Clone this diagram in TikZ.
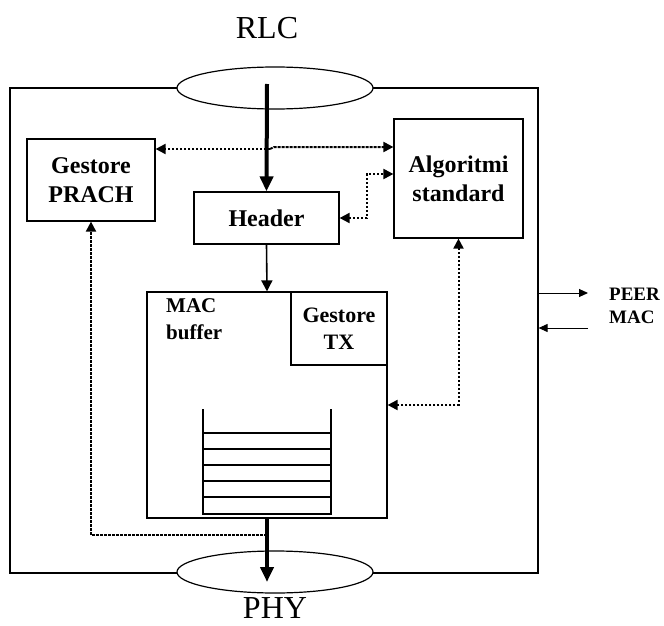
\documentclass[tikz,border=0pt]{standalone}
\usepackage{fontspec}
\setmainfont{Liberation Serif}
\usetikzlibrary{arrows.meta,shapes.geometric}

\tikzset{
  blocco/.style={shape=rectangle,draw=black,line width=1.2pt,inner sep=0pt,align=center,font=\fontsize{24}{29}\selectfont\bfseries},
  strato/.style={shape=ellipse,draw=black,fill=white,line width=1.2pt,minimum width=196pt,minimum height=42pt,inner sep=0pt},
  titolo/.style={font=\fontsize{32}{34}\selectfont,inner sep=0pt},
  forte/.style={line width=4pt,-{Triangle[length=15pt,width=13pt]}},
  sottile/.style={line width=1.6pt,-{Triangle[length=11pt,width=11pt]}},
  punti/.style={line width=2pt,dash pattern=on 2pt off 2pt,{Triangle[length=10pt,width=10pt]}-{Triangle[length=10pt,width=10pt]}},
  puntifitti/.style={punti,dash pattern=on 3pt off 1pt},
}

\begin{document}
\begin{tikzpicture}[x=1pt,y=-1pt]

		\useasboundingbox (0,0) rectangle (664,626);

		\node[shape=rectangle,draw=black,line width=1.2pt,minimum width=528pt,minimum height=485pt] (mac) at (274,330.5) {};
		\node[strato] (rlc) at (275,88)  {};
		\node[strato] (phy) at (275,572) {};
		\node[titolo] (rlct) at (267,28)  {RLC};
		\node[titolo] (phyt) at (275,608) {PHY};

		\node[blocco,minimum width=128pt,minimum height=82pt]  (prach) at (91,180)    {Gestore\\PRACH};
		\node[blocco,minimum width=145pt,minimum height=52pt]  (header) at (266.5,218) {Header};
		\node[blocco,minimum width=129pt,minimum height=119pt] (alg) at (458.5,178.5) {Algoritmi\\standard};
		\node[blocco,minimum width=240pt,minimum height=226pt] (buf) at (267,405)     {};
		\node[blocco,minimum width=96pt,minimum height=73pt,font=\fontsize{22}{27}\selectfont\bfseries] (tx) at (339,328.5) {Gestore\\TX};
		\node[font=\fontsize{21}{27}\selectfont\bfseries,align=left,anchor=north west,inner sep=0pt] (buft) at (166,298) {MAC\\buffer};
		\node[font=\fontsize{19}{23}\selectfont\bfseries,align=left,anchor=west,inner sep=0pt] (peer) at (609,306) {PEER\\MAC};

		% coda del buffer
		\draw[line width=1.2pt] (203,409) -- (203,514) -- (331,514) -- (331,409);
		\foreach \y in {433,449,465,481,497}
			\draw[line width=1.2pt] (203,\y) -- (331,\y);

		\coordinate (ingresso) at (267,84);
		\coordinate (uscita) at (267,582);
		\coordinate (j1) at (270,149);
		\coordinate (j2) at (274,147);
		\coordinate (h1) at (367,174);
		\coordinate (k) at (267,535);
		\coordinate (p1) at (588,293);
		\coordinate (p2) at (588,328);

		\draw[forte] (ingresso) -- (header.north);
		\draw[sottile] (header.south) -- (buf.north);
		\draw[forte] (buf.south) -- (uscita);

		\draw[punti,-{Triangle[length=10pt,width=10pt]}] (j1) -- (prach.east |- j1);
		\draw[puntifitti,-{Triangle[length=10pt,width=10pt]}] (j1) -- (j2) -- (alg.west |- j2);
		\draw[punti] (header.east) -| (h1) -- (alg.west |- h1);
		\draw[punti] (alg.south) |- (buf.east);
		\draw[puntifitti,-{Triangle[length=10pt,width=10pt]}] (k) -| (prach.south);

		\draw[sottile,line width=1pt,-{Triangle[length=9pt,width=8pt]}] (mac.east |- p1) -- (p1);
		\draw[sottile,line width=1pt,-{Triangle[length=9pt,width=8pt]}] (p2) -- (mac.east |- p2);

\end{tikzpicture}
\end{document}
